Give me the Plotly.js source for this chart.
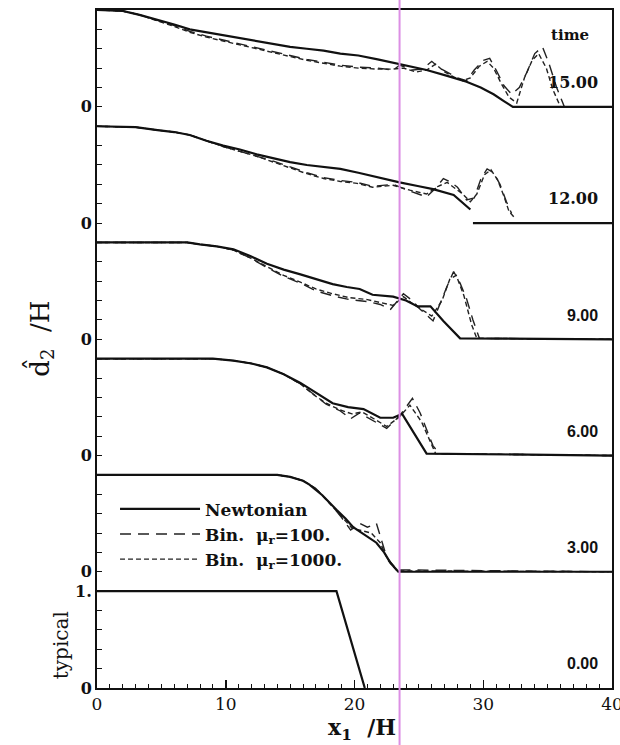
<!DOCTYPE html>
<html>
<head>
<meta charset="utf-8">
<script src="https://cdn.plot.ly/plotly-3.0.1.min.js"></script>
<style>html,body{margin:0;padding:0;background:#fff;}</style>
</head>
<body>
<div id="chart" style="width:620px;height:745px;"></div>
<script>
// ---- data (heights d/H of each profile) ----
const timeLabels = ['0.00', '3.00', '6.00', '9.00', '12.00', '15.00'];
const xTickVals = [0, 10, 20, 30, 40];
const xTickText = ['0', '10', '20', '30', '40'];
const seriesNames = ['Newtonian', 'Bin.\u00A0 \u03BC<sub>r</sub>=100.', 'Bin.\u00A0 \u03BC<sub>r</sub>=1000.'];

// time 0.00 (typical)
const newt0_x = [0, 18.6, 20.8];
const newt0_y = [1.0, 1.0, 0.0];

// time 3.00
const newt3_x = [0, 14, 15, 16, 16.5, 17.5, 18.6, 19.3, 19.9, 20.8, 21.7, 22.3, 22.8, 23.4, 40];
const newt3_y = [1.0, 1.0, 0.98, 0.94, 0.90, 0.79, 0.64, 0.55, 0.46, 0.38, 0.30, 0.20, 0.09, 0.0, 0.0];
const mu100_3_x = [0, 14, 15, 16, 17, 18, 19, 19.7, 20.4, 21.0, 21.7, 22.0, 22.5, 23.3, 40];
const mu100_3_y = [1.0, 1.0, 0.98, 0.94, 0.86, 0.72, 0.56, 0.43, 0.50, 0.46, 0.50, 0.36, 0.15, 0.02, 0.0];
const mu1000_3_x = [0, 14, 15, 16, 17, 18, 19, 19.8, 20.6, 21.3, 22.0, 22.6, 23.3, 40];
const mu1000_3_y = [1.0, 1.0, 0.98, 0.94, 0.86, 0.72, 0.57, 0.45, 0.42, 0.40, 0.30, 0.12, 0.01, 0.0];

// time 6.00
const newt6_x = [0, 9, 10.6, 12, 13.2, 14.5, 15.8, 17, 18.3, 19.5, 20.7, 22, 23, 23.7, 25.6, 40];
const newt6_y = [1.0, 1.0, 0.98, 0.95, 0.91, 0.84, 0.75, 0.65, 0.54, 0.50, 0.48, 0.39, 0.39, 0.43, 0.02, 0.0];
const mu100_6_x = [0, 9, 10.6, 12, 13.2, 14.5, 15.8, 16.8, 17.8, 18.9, 19.7, 20.4, 21.5, 22.5, 23.5, 24.5, 25.1, 26.1, 26.6, 40];
const mu100_6_y = [1.0, 1.0, 0.98, 0.95, 0.91, 0.84, 0.74, 0.63, 0.53, 0.46, 0.38, 0.44, 0.36, 0.28, 0.41, 0.59, 0.44, 0.10, 0.02, 0.0];
const mu1000_6_x = [0, 9, 10.6, 12, 13.2, 14.5, 15.8, 16.8, 17.8, 18.9, 19.8, 20.6, 21.5, 22.5, 23.5, 24.3, 25.2, 26.3, 40];
const mu1000_6_y = [1.0, 1.0, 0.98, 0.95, 0.91, 0.84, 0.74, 0.63, 0.54, 0.47, 0.43, 0.45, 0.38, 0.30, 0.40, 0.52, 0.35, 0.02, 0.0];

// time 9.00
const newt9_x = [0, 7, 8, 9.3, 10.6, 11.9, 13.2, 14.5, 15.8, 17, 18.3, 19.4, 20.4, 21.4, 23, 24, 24.9, 25.9, 26.9, 28.2, 40];
const newt9_y = [1.0, 1.0, 0.98, 0.96, 0.93, 0.86, 0.78, 0.72, 0.67, 0.62, 0.57, 0.54, 0.52, 0.46, 0.44, 0.40, 0.34, 0.34, 0.19, 0.01, 0.0];
const mu100_9_x = [0, 7, 8, 9.3, 10.6, 11.9, 13.2, 14.5, 15.8, 17, 18.3, 19.6, 21, 22, 22.8, 23.8, 24.5, 25.1, 26.1, 26.6, 27.2, 27.7, 28.2, 28.7, 29.2, 29.7, 40];
const mu100_9_y = [1.0, 1.0, 0.98, 0.96, 0.92, 0.84, 0.74, 0.65, 0.58, 0.50, 0.45, 0.41, 0.39, 0.36, 0.31, 0.47, 0.40, 0.31, 0.19, 0.36, 0.55, 0.70, 0.58, 0.42, 0.20, 0.01, 0.0];
const mu1000_9_x = [0, 7, 8, 9.3, 10.6, 11.9, 13.2, 14.5, 15.8, 17, 18.3, 19.6, 21, 22, 23, 23.8, 24.6, 25.3, 26, 26.8, 27.4, 27.9, 28.5, 29.1, 29.5, 40];
const mu1000_9_y = [1.0, 1.0, 0.98, 0.96, 0.92, 0.84, 0.75, 0.66, 0.59, 0.52, 0.47, 0.43, 0.41, 0.38, 0.35, 0.44, 0.36, 0.30, 0.24, 0.40, 0.62, 0.66, 0.45, 0.15, 0.01, 0.0];

// time 12.00 (profile breaks before the flat tail)
const newt12_x = [0, 3, 4.7, 6, 7.2, 8.5, 9.8, 11.1, 12.4, 13.7, 15, 16.3, 17.6, 18.9, 20.3, 21.8, 23.5, 25, 26.1, 27.7, 29.0, 29.1, 29.2, 40];
const newt12_y = [1.0, 0.99, 0.96, 0.94, 0.91, 0.85, 0.80, 0.76, 0.71, 0.67, 0.63, 0.60, 0.58, 0.56, 0.52, 0.47, 0.42, 0.38, 0.35, 0.29, 0.14, null, 0.0, 0.0];
const mu100_12_x = [0, 3, 4.7, 6, 7.2, 8.5, 9.8, 11.1, 12.4, 13.7, 15, 16.3, 17.6, 18.9, 20.2, 21.4, 23, 24.3, 25.6, 26.3, 26.9, 27.5, 28, 28.7, 29.3, 29.8, 30.3, 30.8, 31.3, 31.8, 32.2];
const mu100_12_y = [1.0, 0.99, 0.96, 0.94, 0.91, 0.85, 0.79, 0.74, 0.69, 0.64, 0.58, 0.52, 0.47, 0.44, 0.42, 0.38, 0.40, 0.33, 0.27, 0.36, 0.46, 0.42, 0.37, 0.24, 0.26, 0.45, 0.56, 0.52, 0.40, 0.22, 0.10];
const mu1000_12_x = [0, 3, 4.7, 6, 7.2, 8.5, 9.8, 11.1, 12.4, 13.7, 15, 16.3, 17.6, 18.9, 20.2, 21.4, 23, 24.3, 25.6, 26.5, 27.2, 27.8, 28.4, 29, 29.5, 30.1, 30.6, 31.1, 31.6, 32.0, 32.4];
const mu1000_12_y = [1.0, 0.99, 0.96, 0.94, 0.91, 0.85, 0.79, 0.74, 0.69, 0.63, 0.57, 0.51, 0.46, 0.43, 0.41, 0.37, 0.39, 0.34, 0.30, 0.38, 0.42, 0.36, 0.30, 0.22, 0.30, 0.50, 0.55, 0.45, 0.28, 0.12, 0.06];

// time 15.00
const newt15_x = [0, 2, 3.3, 4.7, 6, 7.2, 8.5, 9.8, 11.1, 12.4, 13.7, 15, 16.3, 17.6, 18.9, 20.3, 21.8, 23.5, 25.6, 27.2, 28.7, 29.8, 30.8, 31.6, 32.3, 40];
const newt15_y = [1.0, 0.99, 0.95, 0.90, 0.85, 0.80, 0.77, 0.74, 0.71, 0.68, 0.65, 0.62, 0.60, 0.58, 0.55, 0.53, 0.49, 0.44, 0.38, 0.32, 0.26, 0.20, 0.13, 0.06, 0.0, 0.0];
const mu100_15_x = [0, 2, 3.3, 4.7, 6, 7.2, 8.5, 9.8, 11.1, 12.4, 13.7, 15, 16.3, 17.6, 18.9, 20.3, 21.8, 23, 23.5, 24.5, 25.3, 26, 26.6, 27.3, 28, 28.7, 29.3, 30, 30.5, 31, 31.6, 32.2, 32.8, 33.4, 34, 34.6, 35.1, 35.7, 36.3, 40];
const mu100_15_y = [1.0, 0.99, 0.95, 0.89, 0.84, 0.78, 0.73, 0.69, 0.65, 0.61, 0.57, 0.53, 0.49, 0.46, 0.43, 0.41, 0.40, 0.38, 0.43, 0.38, 0.39, 0.47, 0.40, 0.35, 0.30, 0.27, 0.38, 0.48, 0.50, 0.38, 0.22, 0.13, 0.20, 0.36, 0.55, 0.62, 0.45, 0.20, 0.0, 0.0];
const mu1000_15_x = [0, 2, 3.3, 4.7, 6, 7.2, 8.5, 9.8, 11.1, 12.4, 13.7, 15, 16.3, 17.6, 18.9, 20.3, 21.8, 23, 23.8, 24.8, 25.6, 26.3, 27, 27.7, 28.4, 29, 29.7, 30.3, 30.8, 31.4, 32, 32.6, 33.2, 33.8, 34.3, 34.9, 35.4, 36, 40];
const mu1000_15_y = [1.0, 0.99, 0.95, 0.89, 0.83, 0.77, 0.72, 0.68, 0.64, 0.60, 0.56, 0.52, 0.48, 0.45, 0.42, 0.40, 0.39, 0.39, 0.40, 0.36, 0.38, 0.44, 0.36, 0.31, 0.27, 0.30, 0.42, 0.47, 0.40, 0.24, 0.10, 0.04, 0.30, 0.48, 0.55, 0.40, 0.18, 0.0, 0.0];

const markerLineX = 23.5; // vertical reference line position (x1/H)

// ---- build ----
const PANEL_STEP = 1.2;
const panels = [
  {newt: [newt0_x, newt0_y], mu100: null, mu1000: null},
  {newt: [newt3_x, newt3_y], mu100: [mu100_3_x, mu100_3_y], mu1000: [mu1000_3_x, mu1000_3_y]},
  {newt: [newt6_x, newt6_y], mu100: [mu100_6_x, mu100_6_y], mu1000: [mu1000_6_x, mu1000_6_y]},
  {newt: [newt9_x, newt9_y], mu100: [mu100_9_x, mu100_9_y], mu1000: [mu1000_9_x, mu1000_9_y]},
  {newt: [newt12_x, newt12_y], mu100: [mu100_12_x, mu100_12_y], mu1000: [mu1000_12_x, mu1000_12_y]},
  {newt: [newt15_x, newt15_y], mu100: [mu100_15_x, mu100_15_y], mu1000: [mu1000_15_x, mu1000_15_y]}
];

const styles = {
  newt: {color: '#111', width: 2.2, dash: 'solid'},
  mu100: {color: '#222', width: 1.4, dash: '11px,7px'},
  mu1000: {color: '#222', width: 1.4, dash: '5px,3px'}
};
const nameIdx = {newt: 0, mu100: 1, mu1000: 2};
const traces = [];
const shown = {};
// draw dashed first, Newtonian on top
['mu1000', 'mu100', 'newt'].forEach(key => {
  panels.forEach((p, i) => {
    if (!p[key]) return;
    const off = i * PANEL_STEP;
    const xs = p[key][0];
    const ys = p[key][1].map(v => v === null ? null : v + off);
    const show = !shown[key] && i === 1;
    if (show) shown[key] = true;
    traces.push({
      type: 'scatter', mode: 'lines', x: xs, y: ys,
      name: seriesNames[nameIdx[key]], legendgroup: key,
      legendrank: nameIdx[key] + 1,
      showlegend: show, connectgaps: false,
      line: {color: styles[key].color, width: styles[key].width, dash: styles[key].dash},
      hoverinfo: 'skip'
    });
  });
});

// y ticks: every 0.2, labels at panel baselines
const yTickVals = [], yTickText = [];
for (let k = 0; k <= 35; k++) {
  const v = Math.round(k * 2) / 10;
  yTickVals.push(v);
  let t = '';
  if (k === 0) t = '0';
  else if (k === 5) t = '1.';
  else if (k % 6 === 0) t = '0';
  yTickText.push(t);
}

const annotations = [];
timeLabels.forEach((t, i) => {
  const sans = i <= 3;
  annotations.push({
    xref: 'x', yref: 'y', x: 39.1, y: i * PANEL_STEP + 0.25, text: t,
    showarrow: false, xanchor: 'right', yanchor: 'middle',
    font: {family: sans ? 'Liberation Sans' : 'DejaVu Serif', size: 16, color: '#111', weight: 'bold'}
  });
});
annotations.push({
  xref: 'x', yref: 'y', x: 38.4, y: 5 * PANEL_STEP + 0.74, text: 'time',
  showarrow: false, xanchor: 'right', yanchor: 'middle',
  font: {family: 'DejaVu Serif', size: 15, color: '#111', weight: 'bold'}
});
annotations.push({
  xref: 'paper', yref: 'paper', x: -0.111, y: 0.515, text: 'd\u0302<sub>2</sub>\u00A0 /H',
  textangle: -90, showarrow: false, xanchor: 'center', yanchor: 'middle',
  font: {family: 'DejaVu Serif', size: 26, color: '#111'}
});
annotations.push({
  xref: 'paper', yref: 'paper', x: -0.07, y: 0.063, text: 'typical',
  textangle: -90, showarrow: false, xanchor: 'center', yanchor: 'middle',
  font: {family: 'DejaVu Serif', size: 20, color: '#111'}
});
annotations.push({
  xref: 'paper', yref: 'paper', x: 0.515, y: -0.061, text: 'x<sub>1</sub>\u00A0 /H',
  showarrow: false, xanchor: 'center', yanchor: 'middle',
  font: {family: 'DejaVu Serif', size: 22, color: '#111', weight: 'bold'}
});

const layout = {
  width: 620, height: 745,
  margin: {l: 97, r: 8, t: 10, b: 57, pad: 0},
  paper_bgcolor: '#fff', plot_bgcolor: '#fff',
  showlegend: true,
  legend: {
    x: 0.035, y: 0.29, xanchor: 'left', yanchor: 'top',
    bgcolor: 'rgba(0,0,0,0)', borderwidth: 0,
    itemwidth: 80, tracegroupgap: 0, traceorder: 'normal',
    font: {family: 'DejaVu Serif', size: 17, color: '#111', weight: 'bold'}
  },
  xaxis: {
    range: [0, 40], tickmode: 'array', tickvals: xTickVals, ticktext: xTickText,
    ticks: 'inside', ticklen: 8, tickwidth: 1.5, tickcolor: '#111',
    ticklabeloverflow: 'allow',
    minor: {tickmode: 'linear', tick0: 0, dtick: 1, ticks: 'inside', ticklen: 4, tickwidth: 1, tickcolor: '#111', showgrid: false},
    showline: true, linewidth: 2, linecolor: '#111', mirror: true,
    showgrid: false, zeroline: false,
    tickfont: {family: 'DejaVu Serif', size: 17, color: '#111'}
  },
  yaxis: {
    range: [0, 7.0], tickmode: 'array', tickvals: yTickVals, ticktext: yTickText,
    ticks: 'inside', ticklen: 5, tickwidth: 1, tickcolor: '#111',
    showline: true, linewidth: 2, linecolor: '#111', mirror: true,
    showgrid: false, zeroline: false,
    tickfont: {family: 'DejaVu Serif', size: 16, color: '#111', weight: 'bold'}
  },
  shapes: [{
    type: 'line', xref: 'x', yref: 'paper', x0: markerLineX, x1: markerLineX,
    y0: -0.09, y1: 1.02, line: {color: '#dc8fe4', width: 2}, layer: 'above'
  }],
  annotations: annotations
};

Plotly.newPlot('chart', traces, layout, {displayModeBar: false, staticPlot: true});
</script>
</body>
</html>
